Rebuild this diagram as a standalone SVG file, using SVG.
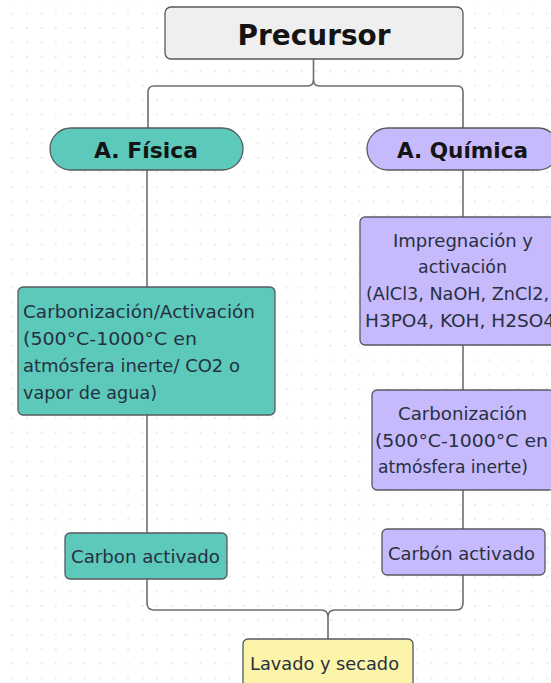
<svg xmlns="http://www.w3.org/2000/svg" width="551" height="683" viewBox="0 0 551 683">
<defs>
<pattern id="dots" x="11.7" y="12.6" width="14.45" height="14.45" patternUnits="userSpaceOnUse">
<circle cx="0.8" cy="0.8" r="0.9" fill="#dcdfe6"/>
</pattern>
<style>
.box{stroke:#555a60;stroke-width:1.3}
.gray{fill:#efefef}
.teal{fill:#5cc9bb}
.purple{fill:#c6b9fc}
.yellow{fill:#fcf4a8}
.hdr{font-family:"DejaVu Sans",sans-serif;font-weight:bold;fill:#141414}
.txt{font-family:"DejaVu Sans",sans-serif;font-size:17px;fill:#263040}
.conn{fill:none;stroke:#6a6e74;stroke-width:1.6}
</style>
</defs>
<rect width="551" height="683" fill="#ffffff"/>
<rect width="551" height="683" fill="url(#dots)"/>

<g id="connectors">
<path class="conn" d="M313.5,59 V80 Q313.5,86 307.5,86 H154 Q148,86 148,92 V128"/>
<path class="conn" d="M313.5,80 Q313.5,86 319.5,86 H457 Q463,86 463,92 V128"/>
<path class="conn" d="M147,170 V287"/>
<path class="conn" d="M147,415 V533"/>
<path class="conn" d="M147,579 V603 Q147,610 154,610 H321 Q328,610 328,617 V639"/>
<path class="conn" d="M463,170 V217"/>
<path class="conn" d="M463,345 V390"/>
<path class="conn" d="M463,490 V529"/>
<path class="conn" d="M463,575 V603 Q463,610 456,610 H335 Q328,610 328,617"/>
</g>

<g id="precursor">
<rect class="box gray" x="165" y="7" width="298" height="52" rx="6"/>
<text class="hdr" x="314" y="45" font-size="28" text-anchor="middle" textLength="153" lengthAdjust="spacingAndGlyphs">Precursor</text>
</g>

<g id="fisica">
<rect class="box teal" x="50" y="128" width="193" height="42" rx="21"/>
<text class="hdr" x="146" y="158" font-size="22" text-anchor="middle" textLength="104" lengthAdjust="spacingAndGlyphs">A. Física</text>
</g>

<g id="quimica">
<rect class="box purple" x="367" y="128" width="192" height="42" rx="21"/>
<text class="hdr" x="462.5" y="158" font-size="22" text-anchor="middle" textLength="131" lengthAdjust="spacingAndGlyphs">A. Química</text>
</g>

<g id="carbonizacion-activacion">
<rect class="box teal" x="18" y="287" width="257" height="128" rx="5"/>
<text class="txt" x="23" y="318" textLength="232" lengthAdjust="spacingAndGlyphs">Carbonización/Activación</text>
<text class="txt" x="23" y="345" textLength="174" lengthAdjust="spacingAndGlyphs">(500°C-1000°C en</text>
<text class="txt" x="23" y="372" textLength="217" lengthAdjust="spacingAndGlyphs">atmósfera inerte/ CO2 o</text>
<text class="txt" x="23" y="399" textLength="134" lengthAdjust="spacingAndGlyphs">vapor de agua)</text>
</g>

<g id="impregnacion">
<rect class="box purple" x="360" y="217" width="206" height="128" rx="5"/>
<text class="txt" x="463" y="247" text-anchor="middle" textLength="140" lengthAdjust="spacingAndGlyphs">Impregnación y</text>
<text class="txt" x="462.5" y="273" text-anchor="middle" textLength="89" lengthAdjust="spacingAndGlyphs">activación</text>
<text class="txt" x="366" y="300" textLength="183" lengthAdjust="spacingAndGlyphs">(AlCl3, NaOH, ZnCl2,</text>
<text class="txt" x="365" y="327" textLength="190" lengthAdjust="spacingAndGlyphs">H3PO4, KOH, H2SO4</text>
</g>

<g id="carbonizacion">
<rect class="box purple" x="372" y="390" width="182" height="100" rx="5"/>
<text class="txt" x="462.5" y="420" text-anchor="middle" textLength="129" lengthAdjust="spacingAndGlyphs">Carbonización</text>
<text class="txt" x="375" y="447" textLength="173" lengthAdjust="spacingAndGlyphs">(500°C-1000°C en</text>
<text class="txt" x="378" y="473" textLength="150" lengthAdjust="spacingAndGlyphs">atmósfera inerte)</text>
</g>

<g id="carbon-activado-fisica">
<rect class="box teal" x="65" y="533" width="162" height="46" rx="5"/>
<text class="txt" x="71" y="563" textLength="149" lengthAdjust="spacingAndGlyphs">Carbon activado</text>
</g>

<g id="carbon-activado-quimica">
<rect class="box purple" x="382" y="529" width="163" height="46" rx="5"/>
<text class="txt" x="388" y="560" textLength="147" lengthAdjust="spacingAndGlyphs">Carbón activado</text>
</g>

<g id="lavado">
<rect class="box yellow" x="243" y="639" width="170" height="52" rx="5"/>
<text class="txt" x="250" y="670" textLength="149" lengthAdjust="spacingAndGlyphs">Lavado y secado</text>
</g>
</svg>
